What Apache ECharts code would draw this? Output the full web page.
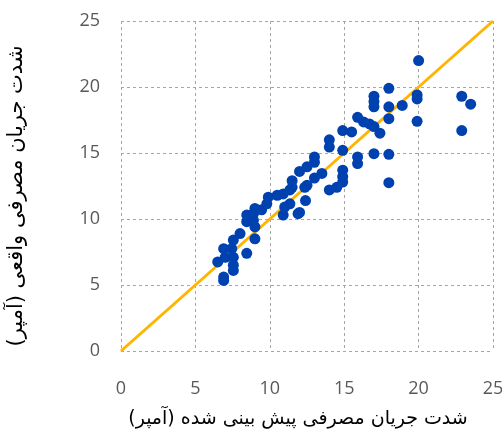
<!DOCTYPE html>
<html>
<head>
<meta charset="utf-8">
<script src="https://cdn.jsdelivr.net/npm/echarts@6/dist/echarts.min.js"></script>
<style>
  html, body { margin: 0; padding: 0; background: #fff; }
  #chart { width: 502px; height: 434px; }
</style>
</head>
<body>
<div id="chart"></div>
<script>
// predicted current (x) vs actual current (y), amperes
var predicted = [
  20, 18, 17, 17, 17, 19.9, 19.9, 22.9, 23.5, 22.9, 19.9, 18.9, 18, 18, 18, 18,
  17, 15.9, 15.9, 15.9, 16.3, 16.7, 17, 17.4, 14.9, 15.5, 14, 14, 14.9, 14.9,
  14.9, 14.9, 14.5, 14, 13, 13, 12.5, 12, 13.5, 13, 12.5, 12.4, 11.5, 11.5, 12,
  10.9, 11, 11.35, 11.9, 12.35, 11.35, 10.9, 10.5, 9.9, 9.8, 9.45, 9, 8.9, 8.9,
  8.45, 8.45, 9, 9, 8.45, 8, 7.55, 7.44, 6.9, 7.55, 7.55, 7, 6.5, 7.55, 6.9, 6.9
];
var actual = [
  22, 19.9, 19.3, 18.9, 18.5, 19.4, 19.1, 19.3, 18.7, 16.7, 17.4, 18.6, 18.5, 17.6, 14.9, 12.75,
  14.95, 14.7, 14.2, 17.7, 17.35, 17.2, 17, 16.5, 16.7, 16.6, 16, 15.45, 15.2, 13.7,
  13.2, 12.8, 12.4, 12.2, 14.7, 14.3, 13.95, 13.6, 13.45, 13.1, 12.55, 11.4, 12.9, 12.4, 10.5,
  10.3, 10.9, 11.15, 10.4, 12.4, 12.2, 11.9, 11.8, 11.65, 11.15, 10.7, 10.8, 10.4, 9.9,
  10.3, 9.8, 9.4, 8.5, 7.4, 8.9, 8.4, 7.75, 7.75, 7.1, 6.5, 7.1, 6.75, 6.1, 5.6, 5.35
];
var ticks = [0, 5, 10, 15, 20, 25];
var xTitle = "شدت جریان مصرفی پیش بینی شده (آمپر)";
var yTitle = "شدت جریان مصرفی واقعی (آمپر)";

var points = predicted.map(function (v, i) { return [v, actual[i]]; });
var chart = echarts.init(document.getElementById("chart"));

var labelStyle = { fontSize: 18, color: "#595959", fontFamily: "Open Sans" };
var gridLine = { show: true, lineStyle: { color: "#a6a6a6", type: [3, 3], width: 1 } };

var option = {
  backgroundColor: "#fff",
  animation: false,
  grid: { left: 121, right: 9, top: 21, bottom: 83, containLabel: false, outerBoundsMode: "none" },
  xAxis: {
    type: "value",
    min: ticks[0],
    max: ticks[ticks.length - 1],
    interval: 5,
    axisLine: { show: false },
    axisTick: { show: false },
    splitLine: gridLine,
    axisLabel: Object.assign({ margin: 29 }, labelStyle),
    name: xTitle,
    nameLocation: "middle",
    nameGap: 59,
    nameTextStyle: { fontSize: 19, color: "#000", fontFamily: "DejaVu Sans", padding: [0, 18, 0, 0] }
  },
  yAxis: {
    type: "value",
    min: ticks[0],
    max: ticks[ticks.length - 1],
    interval: 5,
    axisLine: { show: false },
    axisTick: { show: false },
    splitLine: gridLine,
    axisLabel: Object.assign({ margin: 21 }, labelStyle),
    name: yTitle,
    nameLocation: "middle",
    nameGap: 94,
    nameTextStyle: { fontSize: 21, color: "#000", fontFamily: "DejaVu Sans", padding: [0, 20, 0, 0] }
  },
  series: [
    {
      type: "line",
      data: [[ticks[0], ticks[0]], [ticks[ticks.length - 1], ticks[ticks.length - 1]]],
      symbol: "none",
      lineStyle: { color: "#ffb400", width: 3 },
      z: 1
    },
    {
      type: "scatter",
      data: points,
      symbolSize: 11,
      itemStyle: { color: "#0041b0", opacity: 1 },
      z: 2
    }
  ]
};
chart.setOption(option);
</script>
</body>
</html>
